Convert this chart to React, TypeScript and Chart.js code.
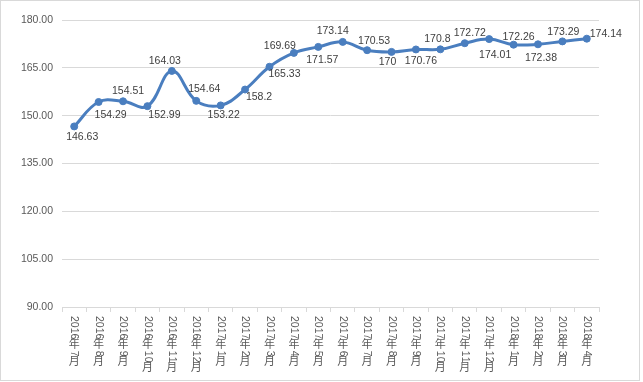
import React, { useEffect, useRef } from "react";
import { Chart, registerables } from "chart.js";

Chart.register(...registerables);

const categories = [
  "2016年7月", "2016年8月", "2016年9月", "2016年10月", "2016年11月", "2016年12月",
  "2017年1月", "2017年2月", "2017年3月", "2017年4月", "2017年5月", "2017年6月",
  "2017年7月", "2017年8月", "2017年9月", "2017年10月", "2017年11月", "2017年12月",
  "2018年1月", "2018年2月", "2018年3月", "2018年4月",
];

const values = [
  146.63, 154.29, 154.51, 152.99, 164.03, 154.64, 153.22, 158.2, 165.33, 169.69, 171.57,
  173.14, 170.53, 170, 170.76, 170.8, 172.72, 174.01, 172.26, 172.38, 173.29, 174.14,
];

const valueLabels = [
  "146.63", "154.29", "154.51", "152.99", "164.03", "154.64", "153.22", "158.2", "165.33",
  "169.69", "171.57", "173.14", "170.53", "170", "170.76", "170.8", "172.72", "174.01",
  "172.26", "172.38", "173.29", "174.14",
];

const yMin = 90;
const yMax = 180;
const yStep = 15;

// label offset from its point (text centre), in px
const labelOffsets: [number, number][] = [
  [8, 11], [12, 13], [5, -10], [17, 9], [-7, -10], [8, -12], [3, 10], [14, 8], [15, 7],
  [-14, -7], [4, 13], [-10, -11], [7, -9], [-4, 10], [5, 12], [-3, -10], [5, -10],
  [6, 16], [5, -8], [3, 14], [1, -9], [19, -5],
];

const LINE = "#4a7ebf";
const TEXT = "#595959";
const GRID = "#d9d9d9";
const FONT = "'Liberation Sans', Arial, sans-serif";

const isDigitLike = (ch: string) => /[0-9A-Za-z.]/.test(ch);

const overlayPlugin = {
  id: "overlay",
  afterDraw(chart: any) {
    const ctx = chart.ctx as CanvasRenderingContext2D;
    // outer border
    ctx.save();
    ctx.strokeStyle = GRID;
    ctx.lineWidth = 1;
    ctx.strokeRect(0.5, 0.5, 639, 380);
    ctx.restore();

    // data labels
    const meta = chart.getDatasetMeta(0);
    ctx.save();
    ctx.font = `10.5px ${FONT}`;
    ctx.fillStyle = "#404040";
    ctx.textAlign = "center";
    ctx.textBaseline = "middle";
    meta.data.forEach((pt: any, i: number) => {
      const [dx, dy] = labelOffsets[i] || [0, -10];
      ctx.fillText(valueLabels[i], pt.x + dx, pt.y + dy);
    });
    ctx.restore();

    // x tick labels: vertical, digits rotated, CJK upright
    const xs = chart.scales.x;
    const top = chart.chartArea.bottom + 9;
    ctx.save();
    ctx.fillStyle = TEXT;
    const fs = 10.5;
    ctx.font = `${fs}px ${FONT}`;
    categories.forEach((lab, i) => {
      const x = xs.getPixelForValue(i);
      let y = top;
      for (const ch of Array.from(lab)) {
        if (isDigitLike(ch)) {
          const w = ctx.measureText(ch).width;
          ctx.save();
          ctx.translate(x, y);
          ctx.rotate(Math.PI / 2);
          ctx.textAlign = "left";
          ctx.textBaseline = "middle";
          ctx.fillText(ch, 0, 0);
          ctx.restore();
          y += w;
        } else {
          ctx.save();
          ctx.textAlign = "center";
          ctx.textBaseline = "top";
          ctx.font = `${fs + 0.5}px 'Noto Sans CJK SC', sans-serif`;
          ctx.fillText(ch, x, y - 1);
          ctx.restore();
          y += fs + 1;
        }
      }
    });
    ctx.restore();
  },
};

export default function App() {
  const ref = useRef<HTMLCanvasElement | null>(null);
  useEffect(() => {
    document.body.style.margin = "0";
    if (!ref.current) return;
    const chart = new Chart(ref.current, {
      type: "line",
      data: {
        labels: categories,
        datasets: [
          {
            data: values,
            borderColor: LINE,
            backgroundColor: LINE,
            borderWidth: 3,
            pointRadius: 3.5,
            pointBackgroundColor: LINE,
            pointBorderColor: LINE,
            pointBorderWidth: 1,
            tension: 0.4,
            fill: false,
          },
        ],
      },
      options: {
        responsive: false,
        animation: false,
        devicePixelRatio: 1,
        layout: { padding: { top: 20, right: 44, left: 0, bottom: 0 } },
        plugins: {
          legend: { display: false },
          tooltip: { enabled: false },
          title: { display: false },
        },
        scales: {
          x: {
            type: "category",
            offset: true,
            grid: {
              display: true,
              drawOnChartArea: false,
              drawTicks: true,
              tickLength: 5,
              offset: true,
              color: GRID,
            },
            border: { display: true, color: GRID, width: 1 },
            ticks: { display: false },
            afterFit: (s: any) => {
              s.height = 75;
            },
          },
          y: {
            min: yMin,
            max: yMax,
            grid: { color: GRID, drawTicks: false, lineWidth: 1 },
            border: { display: false },
            ticks: {
              stepSize: yStep,
              padding: 9,
              color: TEXT,
              font: { family: FONT, size: 10.5 },
              callback: (v: any) => Number(v).toFixed(2),
            },
            afterFit: (s: any) => {
              s.width = 62;
            },
          },
        },
      },
      plugins: [overlayPlugin],
    });
    return () => chart.destroy();
  }, []);
  return (
    <div style={{ position: "absolute", left: 0, top: 0, width: 643, height: 382, background: "#fff" }}>
      <canvas ref={ref} width={643} height={382} style={{ display: "block", width: 643, height: 382 }} />
    </div>
  );
}
